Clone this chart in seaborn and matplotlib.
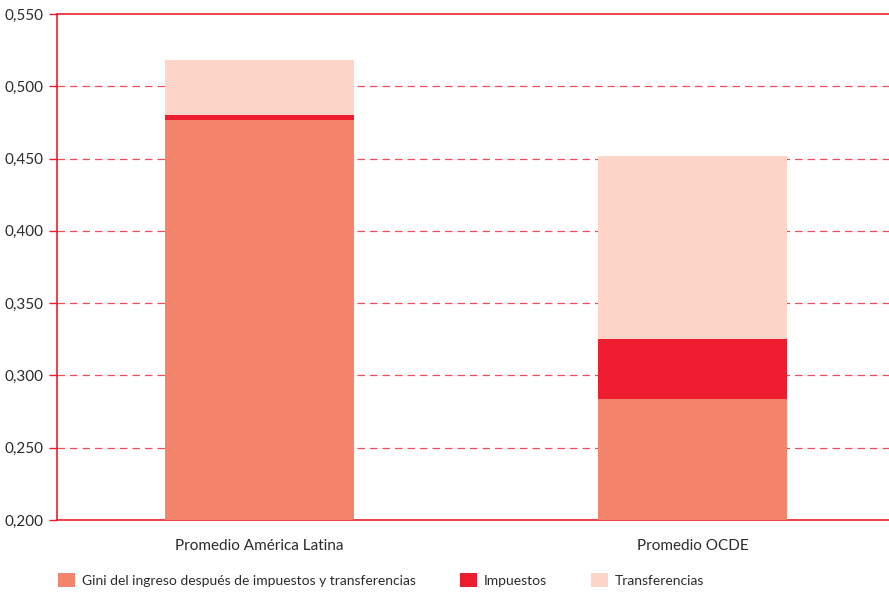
import matplotlib
matplotlib.use("Agg")
import matplotlib.pyplot as plt
import seaborn as sns
import pandas as pd
from matplotlib.patches import Patch

categories = ["Promedio América Latina", "Promedio OCDE"]
gini_despues = [0.477, 0.284]
impuestos = [0.003, 0.041]
transferencias = [0.038, 0.127]
series_labels = ["Gini del ingreso después de impuestos y transferencias", "Impuestos", "Transferencias"]
ytick_vals = [0.200, 0.250, 0.300, 0.350, 0.400, 0.450, 0.500, 0.550]
ytick_labels = ["0,200", "0,250", "0,300", "0,350", "0,400", "0,450", "0,500", "0,550"]

colors = ["#F4846C", "#ED1C2E", "#FDD5C8"]
RED = "#ED1C2E"
TXT = "#2b2b2b"

sns.set_theme(style="white")
plt.rcParams['font.family'] = ['Lato', 'DejaVu Sans']

df = pd.DataFrame({
    "cat": categories,
    "g": gini_despues,
    "gi": [a + b for a, b in zip(gini_despues, impuestos)],
    "tot": [a + b + c for a, b, c in zip(gini_despues, impuestos, transferencias)],
})

fig = plt.figure(figsize=(8.89, 5.94), dpi=100)
ax = fig.add_axes([57/889, 1 - 520/594, 1 - 57/889, (520 - 14)/594])

for v in ytick_vals[1:-1]:
    ax.axhline(v, color="#EE3A4C", lw=0.9, ls=(0, (6, 4)), alpha=0.9, zorder=0)

w = 0.436
kw = dict(width=w, saturation=1, ax=ax, linewidth=0, edgecolor="none")
sns.barplot(data=df, x="cat", y="tot", color=colors[2], zorder=2, **kw)
sns.barplot(data=df, x="cat", y="gi", color=colors[1], zorder=3, **kw)
sns.barplot(data=df, x="cat", y="g", color=colors[0], zorder=4, **kw)

ax.set_ylim(0.200, 0.550)
ax.set_xlim(-0.468, 1.454)
ax.set_yticks(ytick_vals)
ax.set_yticklabels(ytick_labels, fontsize=11, color=TXT)
ax.set_xticks([0, 1])
ax.set_xticklabels(categories, fontsize=11, color=TXT)
ax.set_xlabel("")
ax.set_ylabel("")

for s in ["left", "top", "bottom"]:
    ax.spines[s].set_color(RED)
    ax.spines[s].set_linewidth(1.2)
    ax.spines[s].set_visible(True)
ax.spines["right"].set_visible(False)

ax.tick_params(axis="y", which="both", left=True, length=6, width=1.0, color=RED, pad=4)
ax.tick_params(axis="x", which="both", bottom=False, length=0, pad=14)

handles = [Patch(facecolor=c, edgecolor="none") for c in colors]
fig.legend(handles, series_labels, loc="center left", bbox_to_anchor=(58/889, 1 - 580/594),
           ncol=3, frameon=False, fontsize=10, handlelength=1.25, handleheight=1.1,
           handletextpad=0.45, columnspacing=3.2, labelcolor=TXT,
           borderaxespad=0, borderpad=0)

fig.savefig("out.png", dpi=100)
